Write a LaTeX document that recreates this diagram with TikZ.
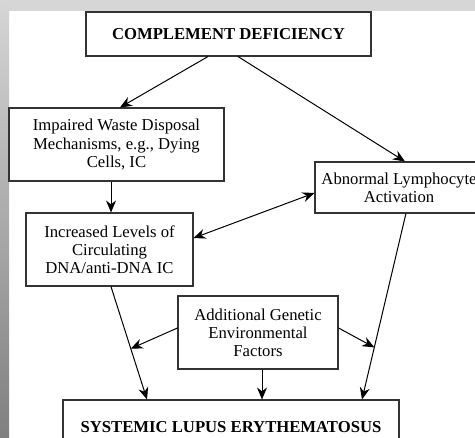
\documentclass[tikz,border=0pt]{standalone}
\usepackage{fontspec}
\setmainfont{Liberation Serif}
\usepackage{xcolor}
\usepackage{tikz}
\usetikzlibrary{
    positioning,
    arrows.meta
}

\begin{document}
\begin{tikzpicture}[
    x=0.75pt, y=-0.75pt,
    font=\fontsize{12.5}{13.6}\selectfont,
    box/.style={
        rectangle,
        draw=black!80,
        line width=0.8pt,
        align=center,
        inner sep=2pt
    },
    arrow/.style={-{Stealth[length=9pt,width=7.5pt]}, line width=0.75pt}
]

% frame
\useasboundingbox (0,0) rectangle (475,437);
\fill[white] (0,0) rectangle (475,437);
\fill[black!16] (0,0) rectangle (475,11);
\shade[top color=black!16, bottom color=black!50] (0,0) rectangle (9,437);

\node[box, minimum width=213.75pt, minimum height=33pt, font=\fontsize{12.5}{13.6}\selectfont\bfseries] (deficiency) at (228.5,34) {COMPLEMENT DEFICIENCY};
\node[box, minimum width=161.25pt, minimum height=54.75pt] (waste) at (116.5,144.5) {Impaired Waste Disposal\\Mechanisms, e.g., Dying\\Cells, IC};
\node[box, minimum width=126pt, minimum height=38.25pt] (lympho) at (399,187.5) {Abnormal Lymphocyte\\Activation};
\node[box, minimum width=125.25pt, minimum height=54.75pt] (levels) at (109.5,249.5) {Increased Levels of\\Circulating\\DNA/anti-DNA IC};
\node[box, minimum width=120pt, minimum height=54.75pt] (factors) at (258,332.5) {Additional Genetic\\Environmental\\Factors};
\node[box, minimum width=252pt, minimum height=40.5pt, font=\fontsize{12.5}{13.6}\selectfont\bfseries] (sle) at (231,427) {SYSTEMIC LUPUS ERYTHEMATOSUS};

\draw[arrow] ([xshift=-15.4pt]deficiency.south) -- ([xshift=2.6pt]waste.north);
\draw[arrow] ([xshift=7.1pt]deficiency.south) -- ([xshift=4.5pt]lympho.north);
\draw[arrow] ([xshift=-4.1pt]waste.south) -- ([xshift=-4.1pt]waste.south |- levels.north);
\draw[arrow, {Stealth[length=9pt,width=7.5pt]}-{Stealth[length=9pt,width=7.5pt]}] ([yshift=8.6pt]levels.east) -- ([yshift=-4.1pt]lympho.west);
\draw[arrow] ([xshift=1.1pt]levels.south) -- coordinate[pos=0.55] (leftmeet) ([xshift=-63pt]sle.north);
\draw[arrow] ([xshift=5.2pt]lympho.south) -- coordinate[pos=0.72] (rightmeet) ([xshift=98.25pt]sle.north);
\draw[arrow] ([yshift=3.4pt]factors.west) -- (leftmeet);
\draw[arrow] ([yshift=3.4pt]factors.east) -- (rightmeet);
\draw[arrow] ([xshift=3pt]factors.south) -- ([xshift=3pt]factors.south |- sle.north);

\end{tikzpicture}
\end{document}
